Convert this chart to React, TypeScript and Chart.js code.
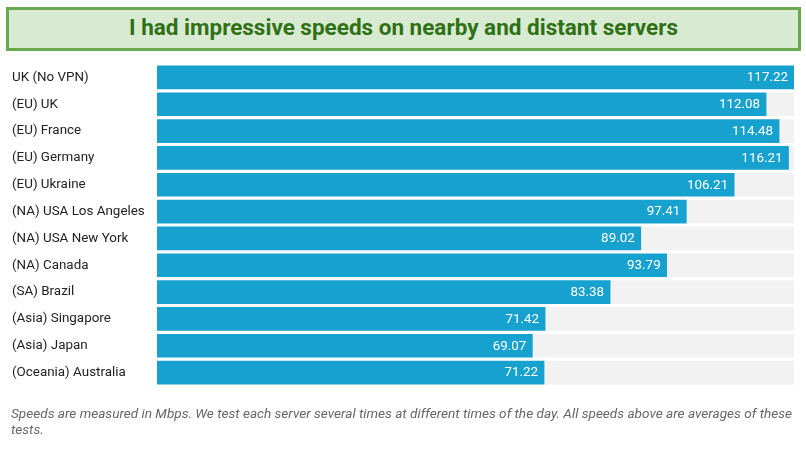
import React, { useEffect, useRef } from 'react';
import { Chart, registerables } from 'chart.js';

Chart.register(...registerables);

const servers = [
  'UK (No VPN)',
  '(EU) UK',
  '(EU) France',
  '(EU) Germany',
  '(EU) Ukraine',
  '(NA) USA Los Angeles',
  '(NA) USA New York',
  '(NA) Canada',
  '(SA) Brazil',
  '(Asia) Singapore',
  '(Asia) Japan',
  '(Oceania) Australia',
];
const speeds = [117.22, 112.08, 114.48, 116.21, 106.21, 97.41, 89.02, 93.79, 83.38, 71.42, 69.07, 71.22];
const topSpeed = 117.22;
const remainder = speeds.map(v => topSpeed - v);

const valueLabels = {
  id: 'valueLabels',
  afterDatasetsDraw(chart: Chart) {
    const { ctx } = chart;
    const meta = chart.getDatasetMeta(0);
    ctx.save();
    ctx.font = '13.4px Roboto';
    ctx.fillStyle = '#ffffff';
    ctx.textAlign = 'right';
    ctx.textBaseline = 'middle';
    meta.data.forEach((bar, i) => {
      ctx.fillText(speeds[i].toFixed(2), bar.x - 6, bar.y + 0.5);
    });
    ctx.restore();
  },
};

const App: React.FC = () => {
  const chartRef = useRef<HTMLCanvasElement | null>(null);

  useEffect(() => {
    document.body.style.margin = '0';
    if (!chartRef.current) return;
    const chart = new Chart(chartRef.current, {
      type: 'bar',
      data: {
        labels: servers,
        datasets: [
          { label: 'Speed', data: speeds, backgroundColor: '#17a1cf', borderWidth: 0, barThickness: 23 },
          { label: 'Rest', data: remainder, backgroundColor: '#f2f2f2', borderWidth: 0, barThickness: 23 },
        ],
      },
      options: {
        indexAxis: 'y',
        animation: false,
        responsive: false,
        layout: { padding: { left: 12, right: 12, top: 64, bottom: 67 } },
        plugins: { legend: { display: false }, tooltip: { enabled: false } },
        scales: {
          x: { stacked: true, min: 0, max: topSpeed, display: false },
          y: {
            stacked: true,
            grid: { display: false },
            border: { display: false },
            afterFit: (scale) => { scale.width = 145; },
            ticks: {
              crossAlign: 'far',
              color: '#222222',
              padding: 0,
              autoSkip: false,
              font: { family: 'Roboto', size: 13.4 },
            },
          },
        },
      },
      plugins: [valueLabels],
    });
    return () => chart.destroy();
  }, []);

  return (
    <div style={{ position: 'absolute', left: 0, top: 0, width: 806, height: 453, background: '#fff', overflow: 'hidden' }}>
      <canvas ref={chartRef} width={806} height={453} style={{ position: 'absolute', left: 0, top: 0 }} />
      <div
        style={{
          position: 'absolute', left: 6, top: 7, width: 795, height: 44, boxSizing: 'border-box',
          background: '#d9ead3', border: '3px solid #6aa84f', color: '#2f7015',
          font: 'bold 22.5px Roboto', lineHeight: '34px', textAlign: 'center',
        }}
      >
        I had impressive speeds on nearby and distant servers
      </div>
      <div
        style={{
          position: 'absolute', left: 11, top: 405, width: 785, color: '#666666',
          font: 'italic 13.6px Roboto', lineHeight: '16px',
        }}
      >
        Speeds are measured in Mbps. We test each server several times at different times of the day. All speeds above are averages of these tests.
      </div>
    </div>
  );
};

export default App;
